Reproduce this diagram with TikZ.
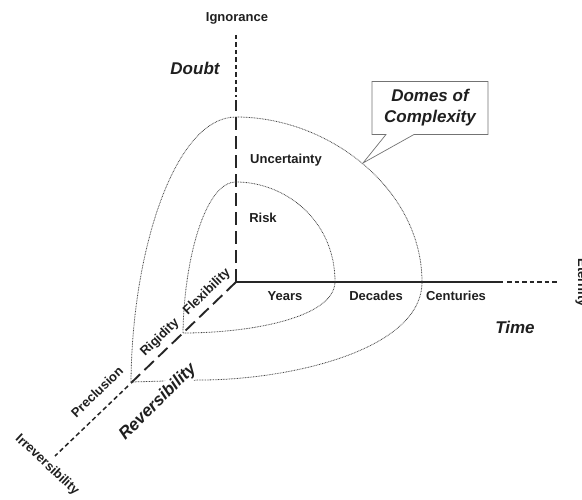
\documentclass[tikz,border=0pt]{standalone}
\usepackage{fontspec}
\setmainfont{Liberation Sans}
\usetikzlibrary{calc,shapes.callouts}
\tikzset{
	axisline/.style={line width=1.9pt, color=black!85},
	longdash/.style={axisline, dash pattern=on 13pt off 6pt},
	shortdash/.style={line width=1.5pt, color=black!85, dash pattern=on 4.5pt off 3pt},
	domeline/.style={line width=0.8pt, color=black!72, dash pattern=on 0.8pt off 0.8pt},
	lbl/.style={font=\fontsize{13}{15}\selectfont\bfseries, text=black!88},
	biglbl/.style={font=\fontsize{17}{21}\selectfont\bfseries\itshape, text=black!88},
}

\begin{document}
\begin{tikzpicture}[x=1pt,y=-1pt]
		\useasboundingbox (0,0) rectangle (582,500);
		%%%%% START %%%%%
		
		\coordinate (O) at (236,282);
		
		% axes
		\draw[shortdash] (236,35) -- (236,97);
		\draw[longdash] (O) -- (236,100);
		\draw[axisline] (O) -- (503,282);
		\draw[shortdash] (507,282) -- (558,282);
		\draw[longdash] (O) -- (131,383);
		\draw[shortdash] (128,386) -- (55,456);
		
		% domes
		\coordinate (inA) at (183,333);
		\coordinate (inTop) at (236,182);
		\coordinate (inR) at (335,282);
		\draw[domeline] (inA) .. controls (184,260) and (205,182) .. (inTop) .. controls (285,182) and (335,220) .. (inR) .. controls (334,318) and (250,333) .. (inA);
		
		\coordinate (outA) at (131,382);
		\coordinate (outTop) at (236,117);
		\coordinate (outR) at (422,282);
		\draw[domeline] (outA) .. controls (132,250) and (175,117) .. (outTop) .. controls (330,117) and (422,190) .. (outR) .. controls (422,350) and (290,380) .. (200,380) -- (outA);
		
		% labels
		\node[lbl] (ign) at (237,18) {Ignorance};
		\node[biglbl] (doubt) at (195,68) {Doubt};
		\node[lbl] (unc) at (286,160) {Uncertainty};
		\node[lbl] (risk) at (263,218) {Risk};
		\node[lbl] (yrs) at (285,296) {Years};
		\node[lbl] (dec) at (376,296) {Decades};
		\node[lbl] (cen) at (456,296) {Centuries};
		\node[biglbl] (time) at (515,327) {Time};
		\node[lbl, rotate=-90, anchor=base west] (eter) at (578,255) {Eternity};
		
		\node[lbl, rotate=44] (flex) at (207,292) {Flexibility};
		\node[lbl, rotate=44] (rig) at (160,338) {Rigidity};
		\node[lbl, rotate=44] (prec) at (97,392) {Preclusion};
		\node[lbl, rotate=-43] (irr) at (47,465) {Irreversibility};
		\node[biglbl, rotate=45, fill=white, inner sep=2pt] (rev) at (158,402) {Reversibility};
		
		\coordinate (tip) at (363,163);
		\node[rectangle callout, draw=black!55, line width=0.7pt, fill=white, callout absolute pointer={(tip)}, callout pointer width=28pt, biglbl, align=center, minimum width=116pt, minimum height=53pt, inner sep=2pt] (domes) at (430,108) {Domes of\\Complexity};
		
		%%%%% END %%%%%
\end{tikzpicture}
\end{document}
